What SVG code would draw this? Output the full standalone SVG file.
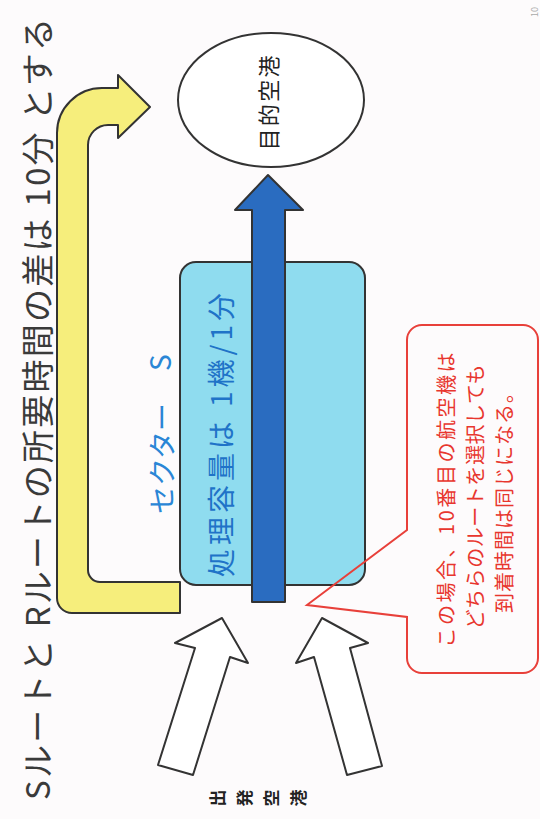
<svg xmlns="http://www.w3.org/2000/svg" width="540" height="819" viewBox="0 0 540 819">
<style>
.jp{font-family:"Noto Sans CJK JP","Noto Sans",sans-serif;}
.outline{stroke:#333;stroke-width:2;stroke-linejoin:round;}
.red{fill:#e8362e;}
</style>
<rect x="0" y="0" width="540" height="819" fill="#fdfbfc"/>
<g id="title">
<text class="jp" transform="translate(36,409) rotate(-90)" text-anchor="middle" dominant-baseline="central" font-size="33" fill="#3a3a3a" textLength="782" lengthAdjust="spacing">Sルートと Rルートの所要時間の差は 10分 とする</text>
</g>
<g id="page-number">
<text class="jp" transform="translate(534,12) rotate(-90)" text-anchor="middle" dominant-baseline="central" font-size="9" fill="#aaa">10</text>
</g>
<g id="connectors">
<path id="route-r" class="outline" fill="#f6ee7c" d="M118 88 L102 88 A45 45 0 0 0 57 133 L57 598 A15 15 0 0 0 72 613 L180 613 L180 582 L100 582 A12 12 0 0 1 88 570 L88 145 A20 20 0 0 1 108 125 L118 125 L118 138 L150 107 L118 75 Z"/>
<path id="in-left" class="outline" fill="#fff" d="M222 618 L175 643 L195 648 L158 765 L193 775 L230 657 L248 663 Z"/>
<path id="in-right" class="outline" fill="#fff" d="M322 618 L368 643 L350 648 L382 766 L347 775 L314 657 L296 663 Z"/>
</g>
<g id="sector-s">
<rect x="180" y="262" width="185" height="323" rx="16" ry="16" fill="#8fdcef" class="outline"/>
<text class="jp" transform="translate(220,435) rotate(-90)" text-anchor="middle" dominant-baseline="central" font-size="28" fill="#1f73c8" textLength="284" lengthAdjust="spacing">処理容量は 1機/1分</text>
</g>
<g id="route-s">
<path class="outline" fill="#2a6cc0" stroke-width="1.5" d="M252 602 L252 210 L235 210 L268 175 L303 210 L285 210 L285 602 Z"/>
</g>
<g id="sector-label">
<g class="jp" font-size="28" fill="#2a86d6" dominant-baseline="central">
<text transform="translate(161,514) rotate(-90)" text-anchor="start">セクター</text>
<text transform="translate(159,371) rotate(-90)" text-anchor="start">S</text>
</g>
</g>
<g id="destination">
<ellipse cx="271" cy="100" rx="93" ry="67" fill="#fff" class="outline"/>
<text class="jp" transform="translate(267,103) rotate(-90)" text-anchor="middle" dominant-baseline="central" font-size="22" fill="#222" textLength="95" lengthAdjust="spacing">目的空港</text>
</g>
<g id="origin">
<g class="jp" font-size="17" font-weight="bold" fill="#222" text-anchor="middle" dominant-baseline="central">
<text transform="translate(216,798) rotate(-90)">出</text>
<text transform="translate(243,798) rotate(-90)">発</text>
<text transform="translate(270,798) rotate(-90)">空</text>
<text transform="translate(297,798) rotate(-90)">港</text>
</g>
</g>
<g id="callout">
<path fill="none" stroke="#e8403a" stroke-width="2" stroke-linejoin="miter" d="M422 325 L523 325 A15 15 0 0 1 538 340 L538 658 A15 15 0 0 1 523 673 L422 673 A15 15 0 0 1 407 658 L407 617 L307 605 L407 530 L407 340 A15 15 0 0 1 422 325 Z"/>
<g class="jp red" font-size="20" text-anchor="middle" dominant-baseline="central">
<text transform="translate(445,500) rotate(-90)" textLength="295" lengthAdjust="spacing">この場合、10番目の航空機は</text>
<text transform="translate(474,497) rotate(-90)" textLength="265" lengthAdjust="spacing">どちらのルートを選択しても</text>
<text transform="translate(503,498) rotate(-90)" textLength="230" lengthAdjust="spacing">到着時間は同じになる。</text>
</g>
</g>
</svg>
